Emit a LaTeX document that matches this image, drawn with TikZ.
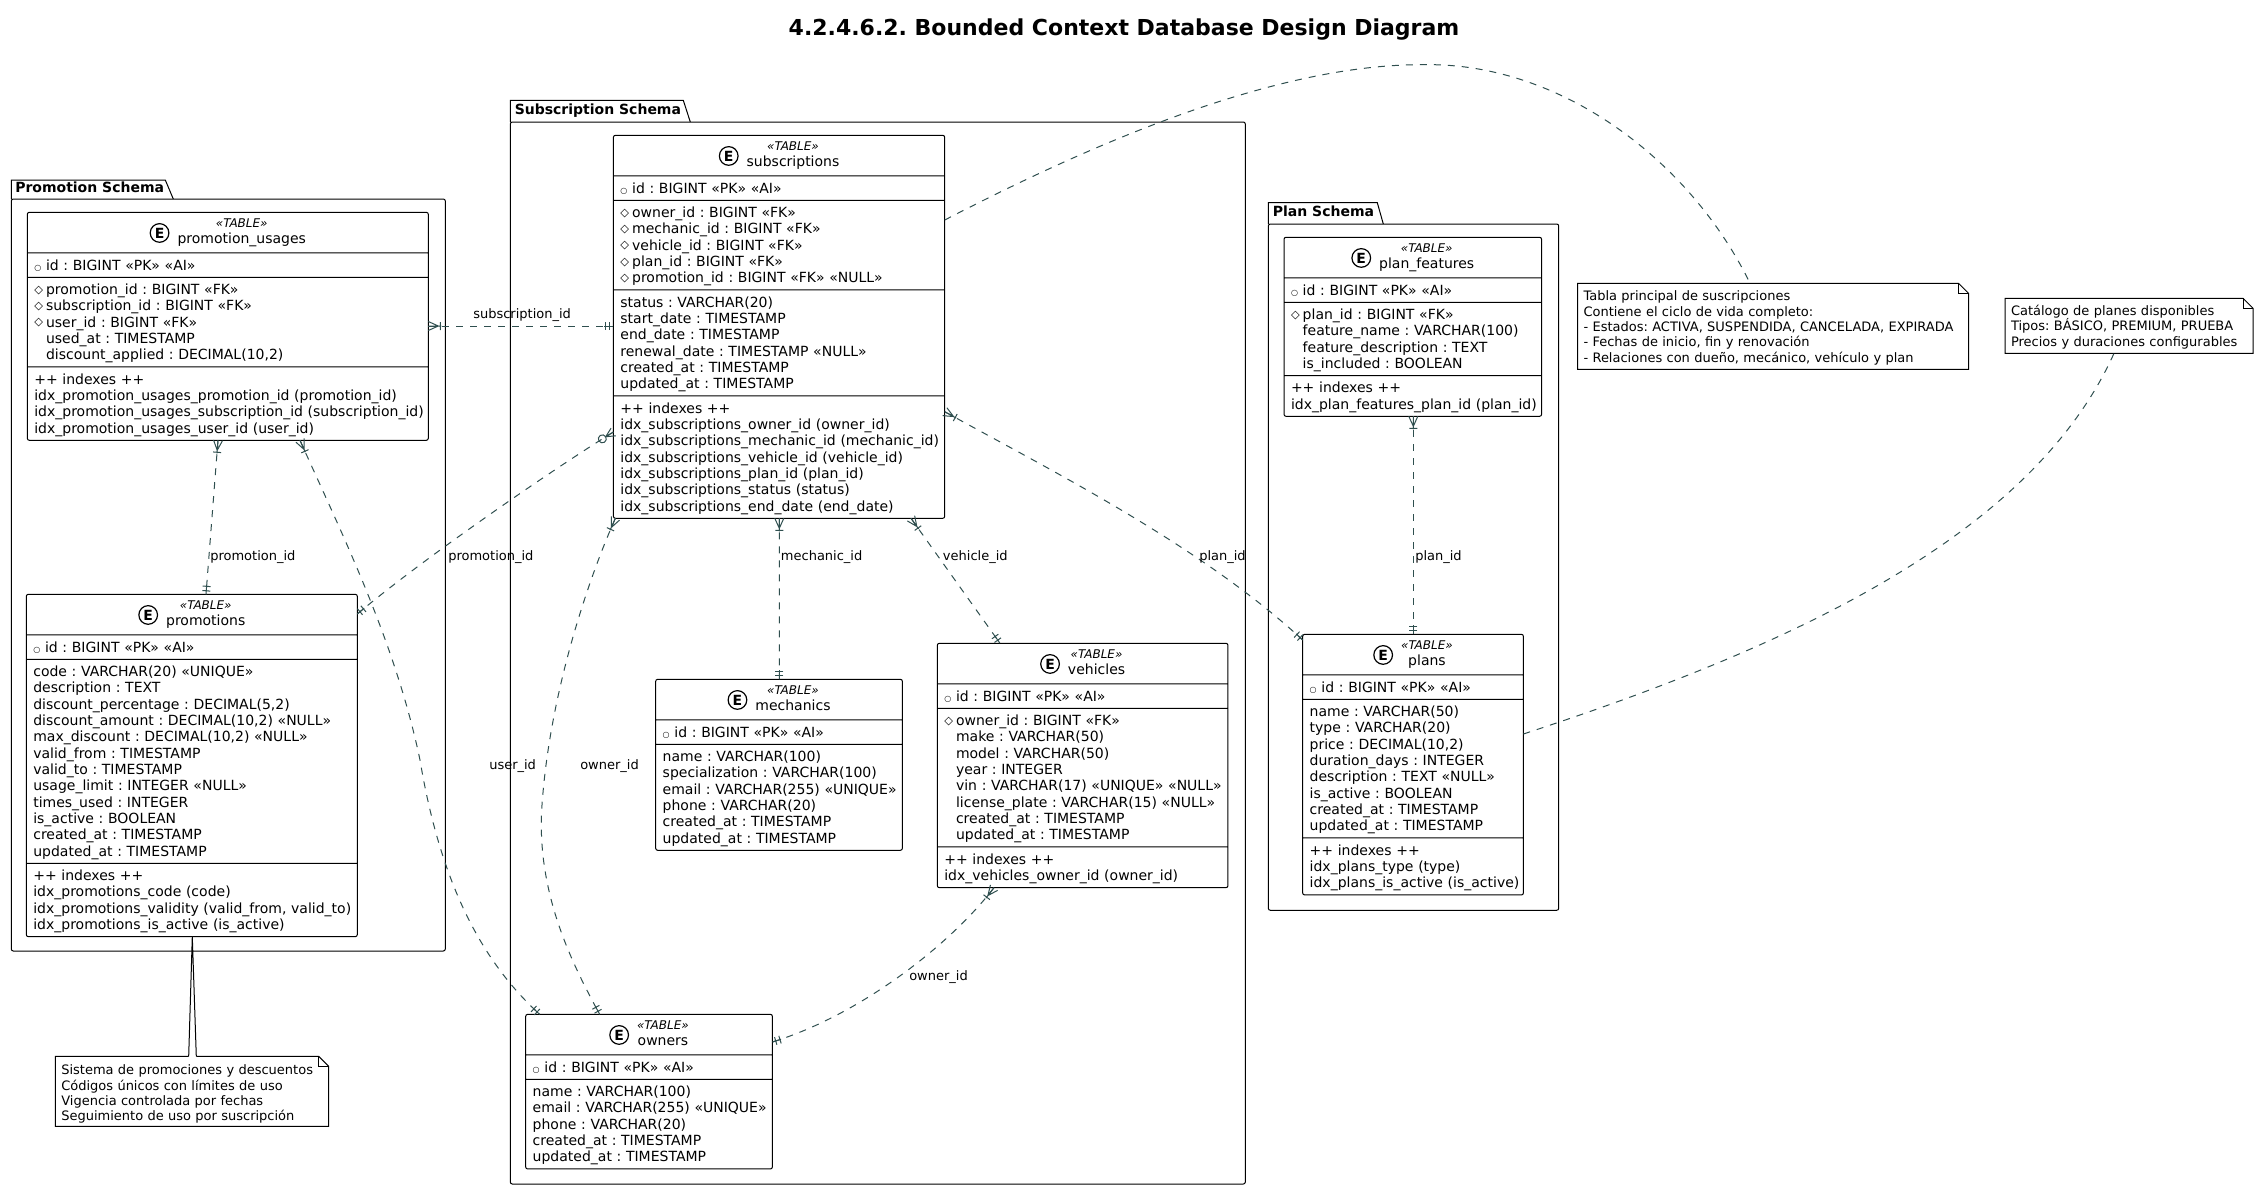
\documentclass[tikz,border=0pt]{standalone}
\usepackage{fontspec}
\setmainfont{DejaVu Sans}
\usetikzlibrary{calc,shapes.multipart,decorations.markings}
\definecolor{linkcolor}{HTML}{2F4F4F}
\frenchspacing

\newcommand{\rowstrut}{\rule[-2.25pt]{0pt}{12.25pt}}
\newcommand{\headstrut}{\rule[-3.75pt]{0pt}{12.25pt}}
\newcommand{\rw}[1]{\hbox to \hsize{\rowstrut\smash{#1}\hss}\par}
\newcommand{\pk}[1]{\rw{\makebox[8.8pt][l]{\raisebox{0.1pt}{\fontsize{6}{6}\selectfont ○}}#1}}
\newcommand{\fk}[1]{\rw{\makebox[8.8pt][l]{\raisebox{1.2pt}{\fontsize{8.5}{8.5}\selectfont ◇}}#1}}
\newcommand{\cl}[1]{\rw{\hspace{8.8pt}#1}}
\newcommand{\spotE}{\tikz[baseline={([yshift=-2.5pt]spot.center)}]\node[spotstyle] (spot) {E};}
\newcommand{\tblhead}[1]{\hbox to \hsize{\hfil\spotE\hspace{6pt}%
  {\renewcommand{\arraystretch}{0}\begin{tabular}[c]{@{}c@{}}%
  \headstrut\fontsize{9}{9}\itshape «TABLE»\\ \headstrut #1\end{tabular}}\hfil}}
\newcommand{\notefold}[1]{%
  \draw[noteline] (#1.north west) -- ($(#1.north east)+(-10,0)$) -- ($(#1.north east)+(0,10)$)
    -- (#1.south east) -- (#1.south west) -- cycle;
  \draw[noteline] ($(#1.north east)+(-10,0)$) -- ($(#1.north east)+(-10,10)$) -- ($(#1.north east)+(0,10)$);}

\tikzset{
  spotstyle/.style={circle,draw,line width=0.9pt,inner sep=0pt,minimum size=14pt,
    font=\fontsize{10.5}{10.5}\selectfont\bfseries},
  dbtable/.style={draw,anchor=north west,rectangle split,rectangle split parts=#1,outer sep=0pt,
    inner xsep=5.25pt,inner ysep=2.625pt,line width=0.75pt,rounded corners=1.5pt,fill=white,
    font=\fontsize{10.5}{12.25}\selectfont},
  schemabox/.style={draw,anchor=north west,outer sep=0pt,line width=0.75pt,rounded corners=1.5pt},
  schematab/.style={anchor=base west,inner sep=0pt,font=\fontsize{10.5}{12.25}\selectfont\bfseries},
  notebox/.style={anchor=north west,outer sep=0pt,inner xsep=4.5pt,inner ysep=0pt,align=left,
    font=\fontsize{9.75}{11.5}\selectfont},
  noteline/.style={line width=0.75pt},
  linklabel/.style={anchor=base west,inner sep=0pt,font=\fontsize{9.75}{11.5}\selectfont},
  link/.style={draw=linkcolor,line width=0.75pt,dash pattern=on 5.25pt off 5.25pt},
  crowfoot/.style={postaction={decorate,decoration={markings,mark=at position 0 with
    {\draw[solid] (0,-4.5) -- (10,0) -- (0,4.5) (0,0) -- (13,0) (12,-4) -- (12,4);}}}},
  zerofoot/.style={postaction={decorate,decoration={markings,mark=at position 0 with
    {\draw[solid] (0,-4.5) -- (9,0) -- (0,4.5) (0,0) -- (9,0) (13,0) circle (4);}}}},
  barpair/.style={postaction={decorate,decoration={markings,mark=at position 1 with
    {\draw[solid] (0,0) -- (-9,0) (-3.5,-4) -- (-3.5,4) (-8,-4) -- (-8,4);}}}}
}

\begin{document}
\begin{tikzpicture}[x=0.75pt,y=-0.75pt]
  \useasboundingbox (0,0) rectangle (2257,1190);

  \node[anchor=base,inner sep=0pt,font=\fontsize{16.5}{18}\selectfont\bfseries] (title) at (1124,35) {4.2.4.6.2. Bounded Context Database Design Diagram};

  \node[schemabox,minimum width=325.5pt,minimum height=564pt] (promoschema) at (11.3,199) {};
  \draw[line width=0.75pt] (promoschema.north west) -- ++(0,-19) -- ++(154,0) -- ++(8,19);
  \node[schematab] (promotab) at (15,192) {Promotion Schema};

  \node[schemabox,minimum width=551.25pt,minimum height=796.5pt] (subschema) at (510.3,122) {};
  \draw[line width=0.75pt] (subschema.north west) -- ++(0,-21.7) -- ++(173,0) -- ++(7,21.7);
  \node[schematab] (subtab) at (514.5,114.3) {Subscription Schema};

  \node[schemabox,minimum width=217.8pt,minimum height=514.7pt] (planschema) at (1268.3,224) {};
  \draw[line width=0.75pt] (planschema.north west) -- ++(0,-21.3) -- ++(109,0) -- ++(6,21.3);
  \node[schematab] (plantab) at (1272.6,216.5) {Plan Schema};

  \node[dbtable=4,text width=290.25pt] (usages) at (27.3,212.3) {\tblhead{promotion\_usages}
    \nodepart{two}\pk{id : BIGINT «PK» «AI»}
    \nodepart{three}\fk{promotion\_id : BIGINT «FK»}\fk{subscription\_id : BIGINT «FK»}\fk{user\_id : BIGINT «FK»}
      \cl{used\_at : TIMESTAMP}\cl{discount\_applied : DECIMAL(10,2)}
    \nodepart{four}\rw{++ indexes ++}\rw{idx\_promotion\_usages\_promotion\_id (promotion\_id)}
      \rw{idx\_promotion\_usages\_subscription\_id (subscription\_id)}\rw{idx\_promotion\_usages\_user\_id (user\_id)}};

  \node[dbtable=4,text width=237.75pt] (promotions) at (26.3,594.3) {\tblhead{promotions}
    \nodepart{two}\pk{id : BIGINT «PK» «AI»}
    \nodepart{three}\rw{code : VARCHAR(20) «UNIQUE»}\rw{description : TEXT}\rw{discount\_percentage : DECIMAL(5,2)}
      \rw{discount\_amount : DECIMAL(10,2) «NULL»}\rw{max\_discount : DECIMAL(10,2) «NULL»}\rw{valid\_from : TIMESTAMP}
      \rw{valid\_to : TIMESTAMP}\rw{usage\_limit : INTEGER «NULL»}\rw{times\_used : INTEGER}\rw{is\_active : BOOLEAN}
      \rw{created\_at : TIMESTAMP}\rw{updated\_at : TIMESTAMP}
    \nodepart{four}\rw{++ indexes ++}\rw{idx\_promotions\_code (code)}\rw{idx\_promotions\_validity (valid\_from, valid\_to)}
      \rw{idx\_promotions\_is\_active (is\_active)}};

  \node[dbtable=5,text width=238pt] (subscriptions) at (613.4,135.3) {\tblhead{subscriptions}
    \nodepart{two}\pk{id : BIGINT «PK» «AI»}
    \nodepart{three}\fk{owner\_id : BIGINT «FK»}\fk{mechanic\_id : BIGINT «FK»}\fk{vehicle\_id : BIGINT «FK»}
      \fk{plan\_id : BIGINT «FK»}\fk{promotion\_id : BIGINT «FK» «NULL»}
    \nodepart{four}\rw{status : VARCHAR(20)}\rw{start\_date : TIMESTAMP}\rw{end\_date : TIMESTAMP}
      \rw{renewal\_date : TIMESTAMP «NULL»}\rw{created\_at : TIMESTAMP}\rw{updated\_at : TIMESTAMP}
    \nodepart{five}\rw{++ indexes ++}\rw{idx\_subscriptions\_owner\_id (owner\_id)}\rw{idx\_subscriptions\_mechanic\_id (mechanic\_id)}
      \rw{idx\_subscriptions\_vehicle\_id (vehicle\_id)}\rw{idx\_subscriptions\_plan\_id (plan\_id)}
      \rw{idx\_subscriptions\_status (status)}\rw{idx\_subscriptions\_end\_date (end\_date)}};

  \node[dbtable=3,text width=174.5pt] (mechanics) at (655.7,679.3) {\tblhead{mechanics}
    \nodepart{two}\pk{id : BIGINT «PK» «AI»}
    \nodepart{three}\rw{name : VARCHAR(100)}\rw{specialization : VARCHAR(100)}\rw{email : VARCHAR(255) «UNIQUE»}
      \rw{phone : VARCHAR(20)}\rw{created\_at : TIMESTAMP}\rw{updated\_at : TIMESTAMP}};

  \node[dbtable=4,text width=207.5pt] (vehicles) at (937.3,643.3) {\tblhead{vehicles}
    \nodepart{two}\pk{id : BIGINT «PK» «AI»}
    \nodepart{three}\fk{owner\_id : BIGINT «FK»}\cl{make : VARCHAR(50)}\cl{model : VARCHAR(50)}\cl{year : INTEGER}
      \cl{vin : VARCHAR(17) «UNIQUE» «NULL»}\cl{license\_plate : VARCHAR(15) «NULL»}\cl{created\_at : TIMESTAMP}\cl{updated\_at : TIMESTAMP}
    \nodepart{four}\rw{++ indexes ++}\rw{idx\_vehicles\_owner\_id (owner\_id)}};

  \node[dbtable=3,text width=174.5pt] (owners) at (525.7,1014.3) {\tblhead{owners}
    \nodepart{two}\pk{id : BIGINT «PK» «AI»}
    \nodepart{three}\rw{name : VARCHAR(100)}\rw{email : VARCHAR(255) «UNIQUE»}\rw{phone : VARCHAR(20)}
      \rw{created\_at : TIMESTAMP}\rw{updated\_at : TIMESTAMP}};

  \node[dbtable=4,text width=182.7pt] (features) at (1284,237.3) {\tblhead{plan\_features}
    \nodepart{two}\pk{id : BIGINT «PK» «AI»}
    \nodepart{three}\fk{plan\_id : BIGINT «FK»}\cl{feature\_name : VARCHAR(100)}\cl{feature\_description : TEXT}\cl{is\_included : BOOLEAN}
    \nodepart{four}\rw{++ indexes ++}\rw{idx\_plan\_features\_plan\_id (plan\_id)}};

  \node[dbtable=4,text width=155pt] (plans) at (1302.7,634.3) {\tblhead{plans}
    \nodepart{two}\pk{id : BIGINT «PK» «AI»}
    \nodepart{three}\rw{name : VARCHAR(50)}\rw{type : VARCHAR(20)}\rw{price : DECIMAL(10,2)}\rw{duration\_days : INTEGER}
      \rw{description : TEXT «NULL»}\rw{is\_active : BOOLEAN}\rw{created\_at : TIMESTAMP}\rw{updated\_at : TIMESTAMP}
    \nodepart{four}\rw{++ indexes ++}\rw{idx\_plans\_type (type)}\rw{idx\_plans\_is\_active (is\_active)}};

  \node[notebox,text width=284.25pt,minimum height=64.5pt] (subnote) at (1577.5,283.3) {\rule{0pt}{9.6pt}Tabla principal de suscripciones\\
    Contiene el ciclo de vida completo:\\- Estados: ACTIVA, SUSPENDIDA, CANCELADA, EXPIRADA\\
    - Fechas de inicio, fin y renovación\\- Relaciones con dueño, mecánico, vehículo y plan};
  \notefold{subnote}
  \node[notebox,text width=177pt,minimum height=41.25pt] (plannote) at (2005,298.3) {\rule{0pt}{9.6pt}Catálogo de planes disponibles\\
    Tipos: BÁSICO, PREMIUM, PRUEBA\\Precios y duraciones configurables};
  \notefold{plannote}
  \node[notebox,text width=196.05pt,minimum height=52.5pt] (promonote) at (55.3,1056.3) {\rule{0pt}{11.9pt}Sistema de promociones y descuentos\\
    Códigos únicos con límites de uso\\Vigencia controlada por fechas\\Seguimiento de uso por suscripción};
  \notefold{promonote}
  \fill[white] ($(promotions.south west)+(166,0)$) -- ($(promonote.north west)+(133.4,1)$) -- ($(promonote.north west)+(141,1)$) -- cycle;
  \draw[noteline] ($(promonote.north west)+(133.4,0)$) -- ($(promotions.south west)+(166,0)$) -- ($(promonote.north west)+(141,0)$);

  \draw[link,crowfoot,barpair] (usages.east |- 0,326) -- (subscriptions.west |- 0,326);
  \node[linklabel] (lblsub) at (473,318) {subscription\_id};

  \draw[link,crowfoot,barpair] ($(usages.south west)+(190.7,0)$) -- ($(promotions.north west)+(179.7,0)$);
  \node[linklabel] (lblpromo) at (210,560) {promotion\_id};

  \draw[link,crowfoot,barpair] ($(usages.south west)+(272.7,0)$) .. controls (340,530) and (395,640) .. (420,760)
    .. controls (440,880) and (480,960) .. ($(owners.north west)+(14,0)$);
  \node[linklabel] (lbluser) at (489,769) {user\_id};

  \draw[link,zerofoot,barpair] (subscriptions.west |- 0,432) .. controls (555,468) and (425,557) .. (promotions.east |- 0,614);
  \node[linklabel] (lblpromotwo) at (448,560) {promotion\_id};

  \draw[link,crowfoot,barpair] ($(subscriptions.south west)+(2,0)$) .. controls (590,575) and (550,690) .. (542,805)
    .. controls (536,890) and (570,960) .. ($(owners.north west)+(74,0)$);
  \node[linklabel] (lblowner) at (580,769) {owner\_id};

  \draw[link,crowfoot,barpair] ($(subscriptions.south west)+(165.9,0)$) -- ($(mechanics.north west)+(123.6,0)$);
  \node[linklabel] (lblmech) at (780.7,560.7) {mechanic\_id};

  \draw[link,crowfoot,barpair] ($(subscriptions.south west)+(297.6,0)$) -- ($(vehicles.north west)+(62.7,0)$);
  \node[linklabel] (lblveh) at (942.7,560.7) {vehicle\_id};

  \draw[link,crowfoot,barpair] (subscriptions.east |- 0,411.7) .. controls (1050,470) and (1200,545) .. (plans.west |- 0,640);
  \node[linklabel] (lblplan) at (1199,560) {plan\_id};

  \draw[link,crowfoot,barpair] ($(features.south west)+(129.3,0)$) -- ($(plans.north west)+(110.6,0)$);
  \node[linklabel] (lblfeat) at (1415,560) {plan\_id};

  \draw[link,crowfoot,barpair] ($(vehicles.south west)+(56.7,0)$) .. controls (950,945) and (860,1015) .. (owners.east |- 0,1042);
  \node[linklabel] (lblvowner) at (909,980.7) {owner\_id};

  \draw[link] (subscriptions.east |- 0,220) .. controls (1080,150) and (1270,64) .. (1423,64.7)
    .. controls (1560,62) and (1690,160) .. ($(subnote.north west)+(172.5,0)$);
  \draw[link] (plans.east |- 0,734) .. controls (1780,650) and (2030,540) .. ($(plannote.south west)+(109,0)$);
\end{tikzpicture}
\end{document}
